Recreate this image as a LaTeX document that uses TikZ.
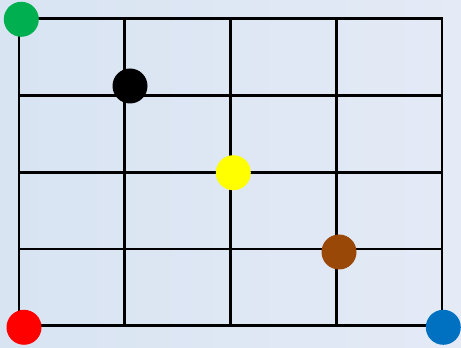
\documentclass[tikz,border=0pt]{standalone}
\definecolor{bgA}{RGB}{216,228,242}
\definecolor{bgB}{RGB}{228,234,246}
\definecolor{dotgreen}{RGB}{0,176,80}
\definecolor{dotyellow}{RGB}{255,255,0}
\definecolor{dotbrown}{RGB}{153,72,8}
\definecolor{dotred}{RGB}{255,0,0}
\definecolor{dotblue}{RGB}{0,112,192}
\begin{document}
\begin{tikzpicture}[x=1pt,y=1pt,
  gridline/.style={line width=2.6pt,black},
  dot/.style={circle,minimum size=35pt,inner sep=0pt,draw=none,fill=#1}]
\useasboundingbox (0,0) rectangle (461,348);
\shade[left color=bgA,right color=bgB] (0,0) rectangle (461,348);
% grid
\draw[gridline] (19,22.3) rectangle (442,329.3);
\foreach \x in {124.75,230.5,336.25}
  \draw[gridline] (\x,22.3) -- (\x,329.3);
\foreach \y in {99,175.7,252.4}
  \draw[gridline] (19,\y) -- (442,\y);
% dots
\node[dot=dotgreen] (g) at (21.3,328.7) {};
\node[dot=black] (k) at (130,262) {};
\node[dot=dotyellow] (y) at (233.3,175.3) {};
\node[dot=dotbrown] (b) at (339,96) {};
\node[dot=dotred] (r) at (24,20.7) {};
\node[dot=dotblue] (u) at (443.3,20.7) {};
\end{tikzpicture}
\end{document}
